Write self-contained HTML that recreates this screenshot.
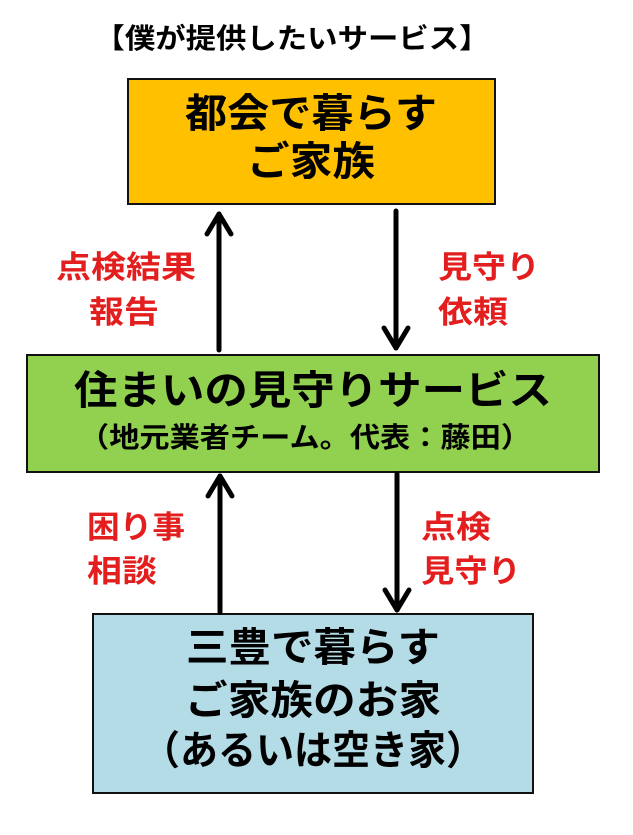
<!DOCTYPE html>
<html><head><meta charset="utf-8"><style>
html,body{margin:0;padding:0;background:#fff;}
svg{display:block;}
text{font-family:"Liberation Sans","Noto Sans CJK JP",sans-serif;font-weight:bold;}
</style></head><body>
<svg width="633" height="835" viewBox="0 0 633 835" xmlns="http://www.w3.org/2000/svg">
<rect width="633" height="835" fill="#fff"/>
<text x="292" y="48" font-size="28" text-anchor="middle" textLength="395" lengthAdjust="spacingAndGlyphs" fill="#000">【僕が提供したいサービス】</text>

<rect x="128" y="79" width="367" height="125" fill="#FFC000" stroke="#111" stroke-width="2"/>
<text x="311" y="127" font-size="40" text-anchor="middle" textLength="252" lengthAdjust="spacingAndGlyphs" fill="#000">都会で暮らす</text>
<text x="311" y="175" font-size="40" text-anchor="middle" textLength="128" lengthAdjust="spacingAndGlyphs" fill="#000">ご家族</text>

<rect x="27" y="355" width="572" height="117" fill="#92D050" stroke="#111" stroke-width="2"/>
<text x="313" y="404" font-size="40" text-anchor="middle" textLength="478" lengthAdjust="spacingAndGlyphs" fill="#000">住まいの見守りサービス</text>
<text x="305" y="447" font-size="28" text-anchor="middle" textLength="452" lengthAdjust="spacingAndGlyphs" fill="#000">（地元業者チーム。代表：藤田）</text>

<rect x="93" y="614" width="440" height="179" fill="#B4DCE7" stroke="#111" stroke-width="2"/>
<text x="313" y="661" font-size="40" text-anchor="middle" textLength="254" lengthAdjust="spacingAndGlyphs" fill="#000">三豊で暮らす</text>
<text x="313" y="714" font-size="40" text-anchor="middle" textLength="256" lengthAdjust="spacingAndGlyphs" fill="#000">ご家族のお家</text>
<text x="313" y="764" font-size="40" text-anchor="middle" textLength="342" lengthAdjust="spacingAndGlyphs" fill="#000">（あるいは空き家）</text>

<g stroke="#000" stroke-width="5" fill="none" stroke-linecap="round" stroke-linejoin="round">
<line x1="219" y1="350" x2="219" y2="214"/><polyline points="207,234 219,214 231,234"/>
<line x1="396" y1="211" x2="396" y2="348"/><polyline points="384,328 396,348 408,328"/>
<line x1="220" y1="612" x2="220" y2="476"/><polyline points="208,496 220,476 232,496"/>
<line x1="397" y1="474" x2="397" y2="610"/><polyline points="385,590 397,610 409,590"/>
</g>

<g fill="#E31E1E" font-size="31">
<text x="56" y="278" textLength="140" lengthAdjust="spacingAndGlyphs">点検結果</text>
<text x="89" y="323" textLength="70" lengthAdjust="spacingAndGlyphs">報告</text>
<text x="438" y="278" textLength="102" lengthAdjust="spacingAndGlyphs">見守り</text>
<text x="438" y="323" textLength="70" lengthAdjust="spacingAndGlyphs">依頼</text>
<text x="87" y="538" textLength="98" lengthAdjust="spacingAndGlyphs">困り事</text>
<text x="87" y="582" textLength="70" lengthAdjust="spacingAndGlyphs">相談</text>
<text x="421" y="538" textLength="70" lengthAdjust="spacingAndGlyphs">点検</text>
<text x="421" y="582" textLength="100" lengthAdjust="spacingAndGlyphs">見守り</text>
</g>
</svg>
</body></html>
